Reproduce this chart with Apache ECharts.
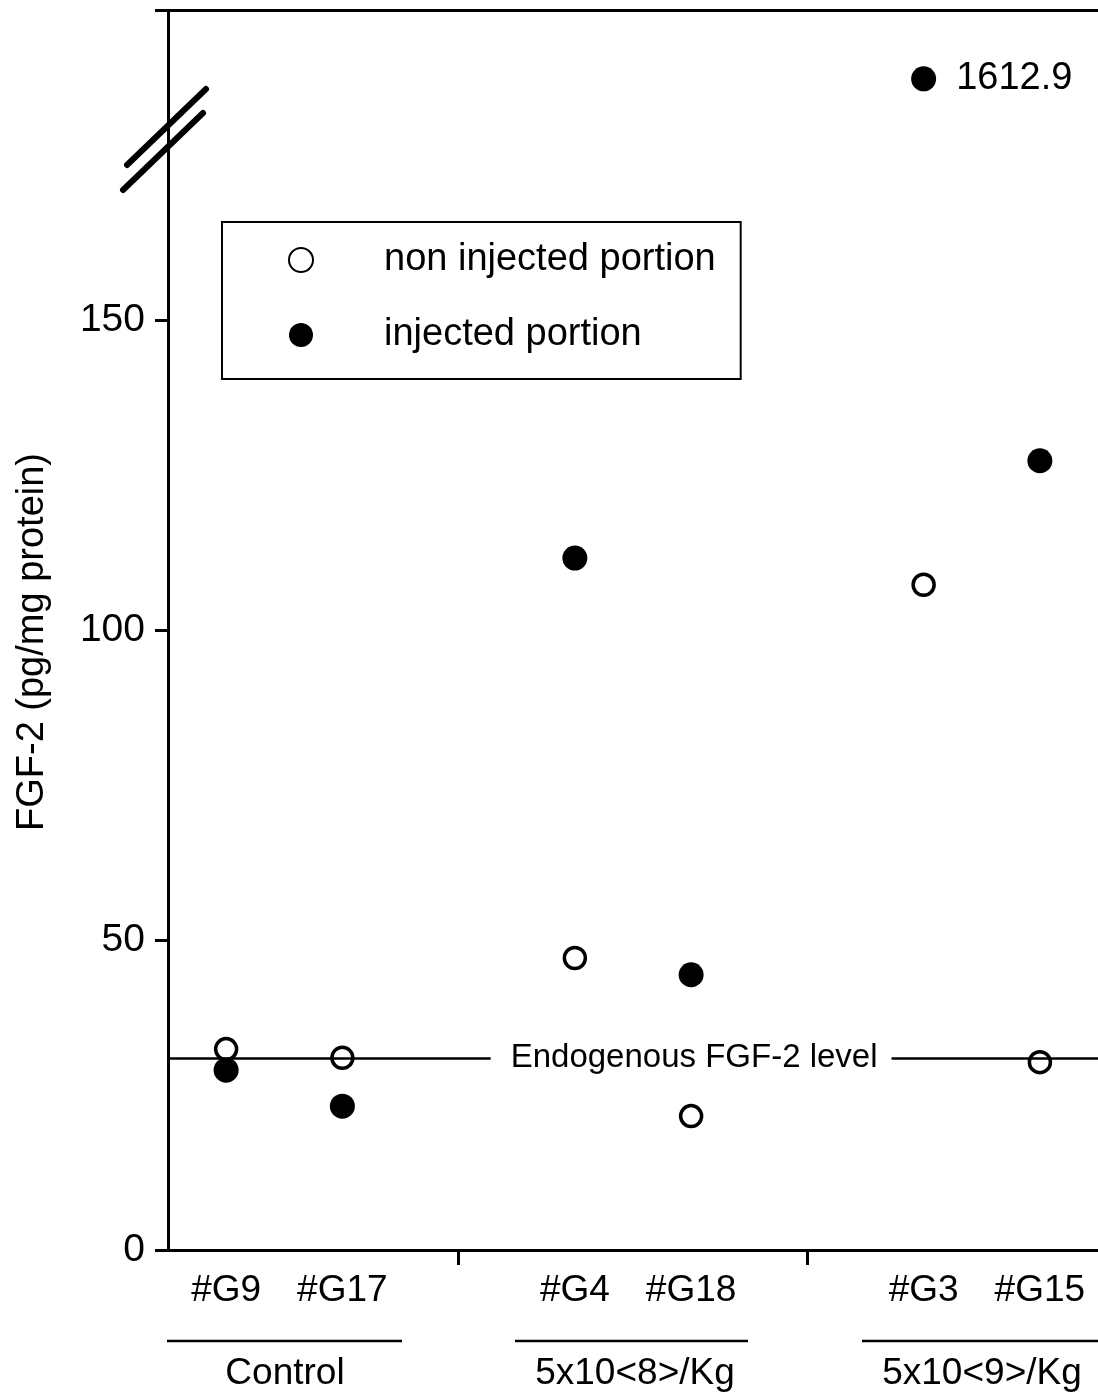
<!DOCTYPE html>
<html>
<head>
<meta charset="utf-8">
<script src="https://cdn.jsdelivr.net/npm/echarts@6/dist/echarts.min.js"></script>
<style>html,body{margin:0;padding:0;background:#fff;}#c{width:1098px;height:1396px;}</style>
</head>
<body>
<div id="c"></div>
<script>
// ---- data ----
var animals = ['#G9', '#G17', '', '#G4', '#G18', '', '#G3', '#G15'];
var nonInjected = [32.4, 31.0, null, 47.1, 21.6, null, 107.3, 30.3];
var injected = [29.0, 23.2, null, 111.6, 44.4, null, 1612.9, 127.3];
var endogenousLevel = 31.0;
var yTickLabels = [0, 50, 100, 150];
var groupNames = ['Control', '5x10<8>/Kg', '5x10<9>/Kg'];
var seriesNames = ['non injected portion', 'injected portion'];
// axis break (values between these are cut out)
var breakStart = 176, breakEnd = 1600, axisMax = 1624;

var FONT = 'Liberation Sans, Arial, Helvetica, sans-serif';
var chart = echarts.init(document.getElementById('c'), null, {renderer: 'canvas'});

var injectedData = injected.map(function (v) {
  if (v !== null && v > breakEnd) {
    return {value: v, label: {show: true, position: 'right', distance: 20, formatter: String(v), fontSize: 38, fontFamily: FONT, color: '#000'}};
  }
  return v;
});

// group label decorations
var groupCenters = [285, 635, 982];
var groupLines = [[167, 402], [515, 748], [862, 1098]];
var graphics = [];
groupNames.forEach(function (g, i) {
  graphics.push({type: 'line', shape: {x1: groupLines[i][0], y1: 1341, x2: groupLines[i][1], y2: 1341}, style: {stroke: '#000', lineWidth: 2.5}});
  graphics.push({type: 'text', x: groupCenters[i], y: 1374, style: {text: g, fontSize: 37, fontFamily: FONT, fill: '#000', align: 'center', verticalAlign: 'middle'}});
});
// axis break marks
graphics.push({type: 'line', shape: {x1: 206, y1: 89, x2: 127, y2: 165}, style: {stroke: '#000', lineWidth: 6, lineCap: 'round'}});
graphics.push({type: 'line', shape: {x1: 203, y1: 113, x2: 123, y2: 190}, style: {stroke: '#000', lineWidth: 6, lineCap: 'round'}});

var option = {
  backgroundColor: '#fff',
  animation: false,
  textStyle: {fontFamily: FONT},
  grid: {left: 168, right: 0, top: 10, bottom: 146, containLabel: false},
  legend: {
    orient: 'vertical',
    left: 222, top: 222,
    padding: [19, 25, 25, 66],
    borderColor: '#000', borderWidth: 2,
    itemWidth: 24, itemHeight: 24, itemGap: 37,
    textStyle: {fontSize: 38, lineHeight: 38, fontFamily: FONT, color: '#000', padding: [0, 0, 0, 66]},
    data: seriesNames
  },
  xAxis: [{
    type: 'category',
    data: animals,
    boundaryGap: true,
    axisLine: {show: true, lineStyle: {color: '#000', width: 3}},
    axisTick: {show: true, alignWithLabel: true, length: 15, lineStyle: {color: '#000', width: 3},
      interval: function (idx) { return idx === 2 || idx === 5; }},
    axisLabel: {show: true, interval: 0, margin: 22, fontSize: 37, fontFamily: FONT, color: '#000'},
    splitLine: {show: false}
  }, {
    type: 'category',
    position: 'top',
    data: animals,
    axisLine: {show: true, lineStyle: {color: '#000', width: 3}},
    axisTick: {show: false},
    axisLabel: {show: false},
    splitLine: {show: false}
  }],
  yAxis: {
    type: 'value',
    min: 0, max: axisMax,
    breaks: [{start: breakStart, end: breakEnd, gap: 0}],
    breakArea: {show: false},
    name: 'FGF-2 (pg/mg protein)',
    nameLocation: 'middle',
    nameGap: 116,
    nameTextStyle: {fontSize: 38, fontFamily: FONT, color: '#000', padding: [0, 24, 0, 0]},
    axisLine: {show: true, lineStyle: {color: '#000', width: 3}},
    axisTick: {show: true, length: 13, lineStyle: {color: '#000', width: 3}, customValues: yTickLabels.concat([axisMax])},
    axisLabel: {show: true, margin: 23, fontSize: 39, fontFamily: FONT, color: '#000', customValues: yTickLabels},
    splitLine: {show: false}
  },
  series: [{
    name: seriesNames[0],
    type: 'scatter',
    symbol: 'circle',
    symbolSize: 21,
    itemStyle: {color: 'rgba(255,255,255,0)', borderColor: '#000', borderWidth: 3.5, opacity: 1},
    data: nonInjected,
    z: 2
  }, {
    name: seriesNames[1],
    type: 'scatter',
    symbol: 'circle',
    symbolSize: 25,
    itemStyle: {color: '#000', opacity: 1},
    data: injectedData,
    z: 3
  }, {
    name: 'endogenous',
    type: 'scatter',
    data: [],
    z: 4,
    markLine: {
      silent: true, symbol: 'none',
      lineStyle: {color: '#000', width: 2.5, type: 'solid', opacity: 1},
      label: {show: false},
      data: [{yAxis: endogenousLevel}]
    },
    markPoint: {
      symbol: 'rect', symbolSize: [1, 1],
      itemStyle: {color: 'rgba(0,0,0,0)'},
      label: {show: true, position: 'inside', formatter: 'Endogenous FGF-2 level', fontSize: 33, fontFamily: FONT, color: '#000',
        backgroundColor: '#fff', padding: [4, 14, 4, 20]},
      data: [{coord: ['#G18', endogenousLevel]}]
    }
  }],
  graphic: graphics
};
chart.setOption(option);
</script>
</body>
</html>
